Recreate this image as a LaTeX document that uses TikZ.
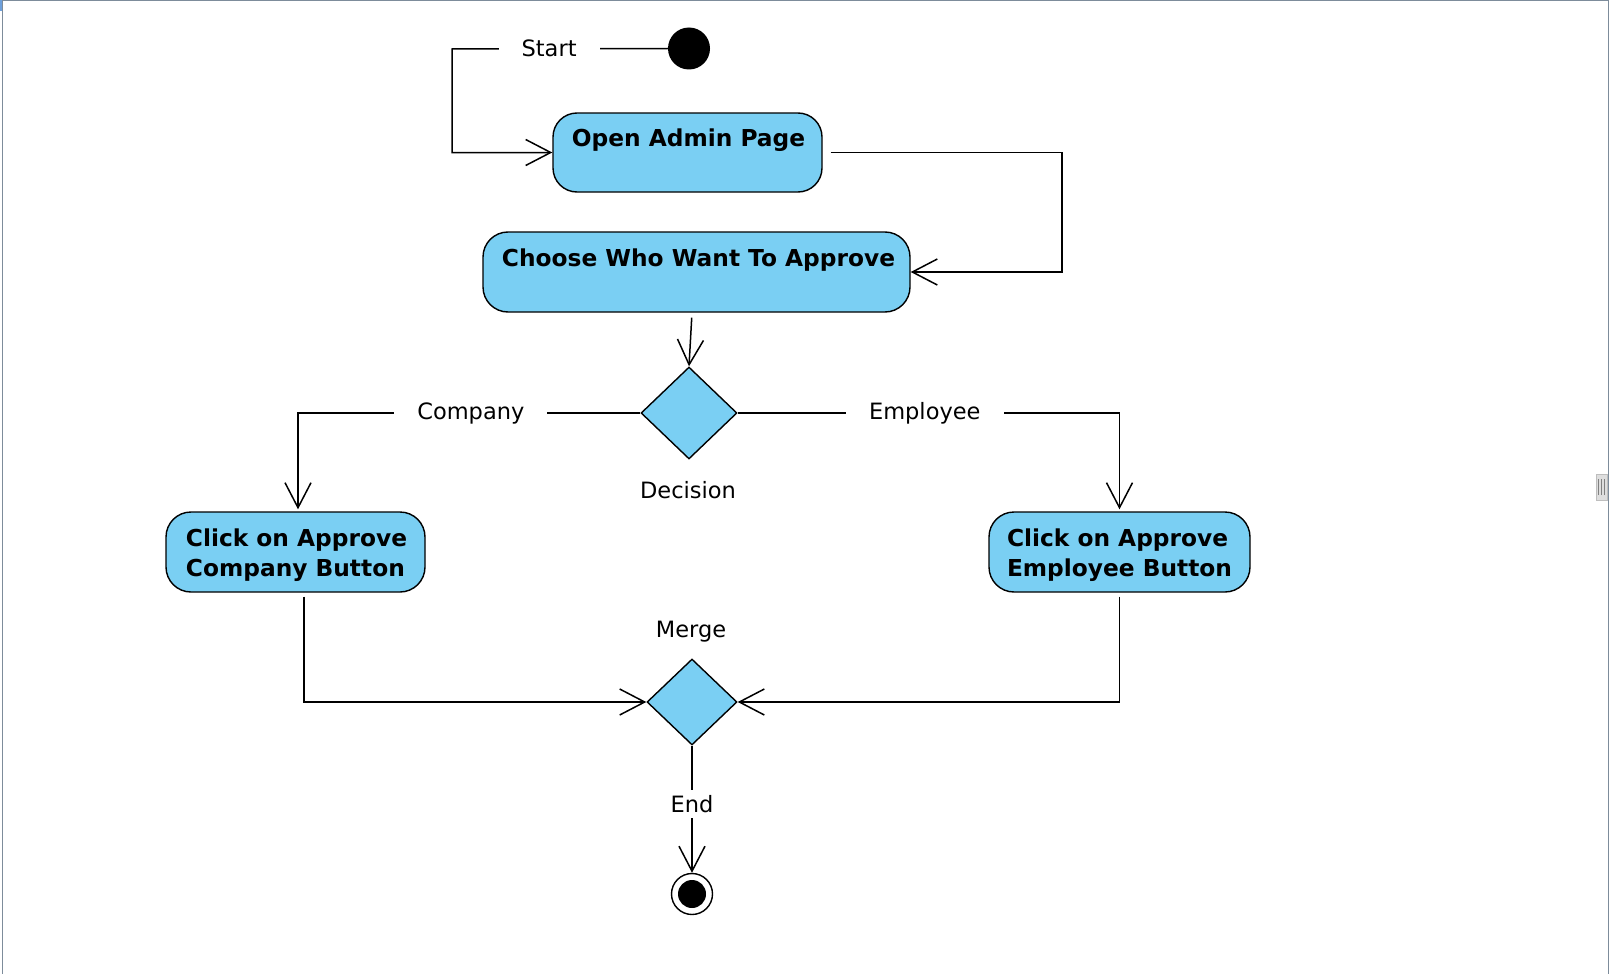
\documentclass[tikz,border=0pt]{standalone}
\usepackage{fontspec}
\setmainfont{DejaVu Sans}
\usetikzlibrary{arrows.meta,shapes.geometric,calc}

\definecolor{actfill}{RGB}{122,207,243}
\definecolor{framegrey}{RGB}{125,140,155}
\definecolor{frameblue}{RGB}{110,160,220}
\definecolor{handlefill}{RGB}{222,222,222}
\definecolor{handleedge}{RGB}{190,190,190}

\tikzset{
  actbox/.style={draw=black, line width=1.4pt, fill=actfill, rounded corners=25pt, inner sep=0pt},
  boxtext/.style={font=\bfseries\fontsize{23.3pt}{30pt}\selectfont, align=left, inner sep=0pt},
  plaintext/.style={font=\fontsize{22.5pt}{27pt}\selectfont, inner sep=0pt},
  gaplabel/.style={font=\fontsize{22.5pt}{27pt}\selectfont, fill=white, inner xsep=23pt, inner ysep=6pt},
  decisionnode/.style={diamond, draw=black, line width=1.4pt, fill=actfill, inner sep=0pt},
  flow/.style={draw=black, line width=1.5pt},
  openarrow/.style={flow, -{Straight Barb[length=25pt,width=26pt]}},
}

\begin{document}
\begin{tikzpicture}[x=1pt,y=-1pt]
  \useasboundingbox (0,0) rectangle (1610,974);
  \fill[white] (0,0) rectangle (1610,974);

  % window frame
  \draw[framegrey, line width=1.3pt] (2.5,974) -- (2.5,0.6) -- (1608.5,0.6) -- (1608.5,974);
  \fill[frameblue] (0,0) rectangle (1.6,11);
  \node[draw=handleedge, fill=handlefill, minimum width=11pt, minimum height=26pt, inner sep=0pt] (handle) at (1601.5,487) {};
  \foreach \dx in {-3,0,3}
    \draw[gray, line width=0.9pt] ([xshift=\dx pt, yshift=-8pt]handle.center) -- ([xshift=\dx pt, yshift=8pt]handle.center);

  % initial node
  \fill[black] (689,48.5) circle[radius=21pt];
  \node[circle, minimum size=42pt, inner sep=0pt] (startDot) at (689,48.5) {};

  % actions
  \node[actbox, rounded corners=24pt, minimum width=269pt, minimum height=79pt] (openAdmin) at (687.5,152.5) {};
  \node[boxtext] (openAdminText) at (688.5,140) {Open Admin Page};

  \node[actbox, minimum width=427pt, minimum height=80pt] (choose) at (696.5,272) {};
  \node[boxtext] (chooseText) at (698.5,260) {Choose Who Want To Approve};

  \node[decisionnode, minimum width=96pt, minimum height=92pt] (decision) at (689,413) {};
  \node[plaintext] (decisionLabel) at (688,490) {Decision};

  \node[actbox, minimum width=259pt, minimum height=80pt] (clickCompany) at (295.5,552) {};
  \node[boxtext] (clickCompanyText) at (296.5,555) {Click on Approve\\Company Button};

  \node[actbox, minimum width=261pt, minimum height=80pt] (clickEmployee) at (1119.5,552) {};
  \node[boxtext] (clickEmployeeText) at (1119.5,555) {Click on Approve\\Employee Button};

  \node[decisionnode, minimum width=90pt, minimum height=86pt] (merge) at (692,702) {};
  \node[plaintext] (mergeLabel) at (691,632) {Merge};

  % final node
  \node[circle, draw=black, line width=1.4pt, fill=white, minimum size=41pt, inner sep=0pt] (final) at (692,894) {};
  \fill[black] (final.center) circle[radius=14pt];

  % bend points
  \coordinate (startBend) at (452,49);
  \coordinate (adminBend) at (1062,152.5);

  % control flows
  \draw[openarrow] (startDot.west) -- node[gaplabel, pos=0.55] (startLabel) {Start} (startBend) |- (openAdmin.west);
  \draw[openarrow, shorten <=8pt] (openAdmin.east) -- (adminBend) |- (choose.east);
  \draw[openarrow, shorten <=5pt] ([xshift=-4.5pt]choose.south) -- (decision.north);
  \draw[openarrow] (decision.west) -- node[gaplabel, pos=0.495] (companyLabel) {Company} ([xshift=2.5pt]clickCompany.north |- decision.west) -- ([xshift=2.5pt, yshift=2pt]clickCompany.north);
  \draw[openarrow] (decision.east) -- node[gaplabel, pos=0.49] (employeeLabel) {Employee} (clickEmployee.north |- decision.east) -- ([yshift=2pt]clickEmployee.north);
  \draw[openarrow, shorten <=4pt] ([xshift=8.5pt]clickCompany.south) |- (merge.west);
  \draw[openarrow, shorten <=4pt] (clickEmployee.south) |- (merge.east);
  \draw[openarrow] (merge.south) -- node[gaplabel, inner xsep=4pt, inner ysep=5pt, pos=0.46] (endLabel) {End} (final.north);
\end{tikzpicture}
\end{document}
